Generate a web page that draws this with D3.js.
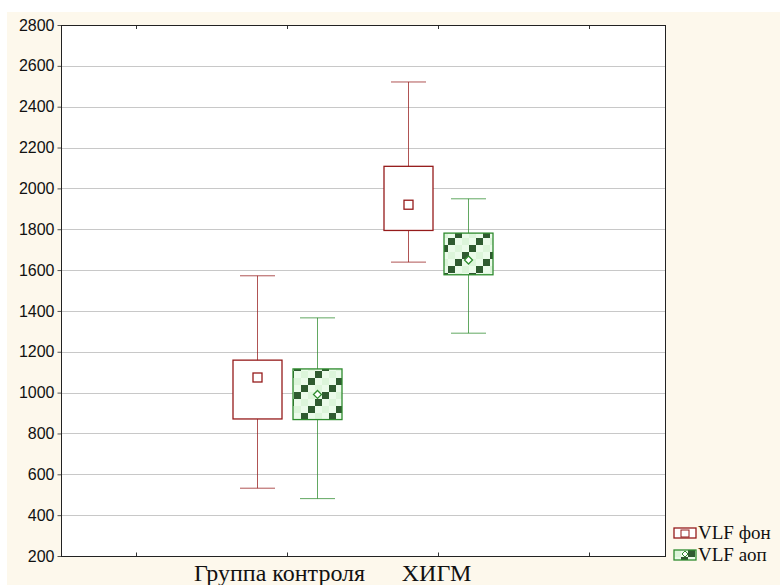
<!DOCTYPE html>
<html>
<head>
<meta charset="utf-8">
<script src="https://cdn.jsdelivr.net/npm/d3@7"></script>
<style>
  body { margin: 0; background: #fff; }
</style>
</head>
<body>
<div id="chart"></div>
<script>
// categories and series
const groups = ["Группа контроля", "ХИГМ"];
const series = ["VLF фон", "VLF аоп"];
const yTicks = [200, 400, 600, 800, 1000, 1200, 1400, 1600, 1800, 2000, 2200, 2400, 2600, 2800];

// values (per group)
const fonMean = [1074, 1920];
const fonQ1 = [871, 1794];
const fonQ3 = [1159, 2108];
const fonMin = [532, 1639];
const fonMax = [1572, 2521];

const aopMean = [991, 1649];
const aopQ1 = [868, 1577];
const aopQ3 = [1116, 1781];
const aopMin = [481, 1291];
const aopMax = [1366, 1949];

const width = 780, height = 585;
const plot = {left: 61, right: 665, top: 25, bottom: 556};
const colors = {"VLF фон": "#951b1b", "VLF аоп": "#2e8b2e"};
const serif = "'Liberation Serif', 'Times New Roman', 'DejaVu Serif', serif";
const sans = "'Liberation Sans', Arial, sans-serif";

const svg = d3.select("#chart").append("svg")
    .attr("width", width)
    .attr("height", height);

// green checker pattern for the second series
const defs = svg.append("defs");
const pat = defs.append("pattern")
    .attr("id", "checker")
    .attr("patternUnits", "userSpaceOnUse")
    .attr("width", 28).attr("height", 28);
pat.append("rect").attr("width", 28).attr("height", 28).attr("fill", "#ebfbea");
for (let r = 0; r < 4; r++) {
    for (let c = 0; c < 4; c++) {
        let fill = null;
        if ((r + c) % 4 === 2) fill = "#2f5a30";
        else if ((r + c) % 4 === 0) fill = "#dcf5da";
        if (fill) pat.append("rect").attr("x", c * 7).attr("y", r * 7)
            .attr("width", 7).attr("height", 7).attr("fill", fill);
    }
}

// page background
svg.append("rect")
    .attr("x", 7).attr("y", 12)
    .attr("width", width - 7).attr("height", height - 12)
    .attr("fill", "#fdf8ec");

svg.append("rect")
    .attr("x", plot.left).attr("y", plot.top)
    .attr("width", plot.right - plot.left).attr("height", plot.bottom - plot.top)
    .attr("fill", "#fff");

// scales: four slots, the outer two stay empty
const slots = ["_l", ...groups, "_r"];
const x = d3.scaleBand().domain(slots).range([plot.left, plot.right]);
const xs = d3.scalePoint().domain(series).range([-30, 30]);
const y = d3.scaleLinear().domain([200, 2800]).range([plot.bottom, plot.top]);

// grid
svg.append("g")
    .selectAll("line")
    .data(yTicks.filter(d => d > 200 && d < 2800))
    .enter()
    .append("line")
        .attr("x1", plot.left).attr("x2", plot.right)
        .attr("y1", d => Math.round(y(d)) + 0.5).attr("y2", d => Math.round(y(d)) + 0.5)
        .attr("stroke", "#c8c8c8")
        .attr("stroke-width", 1);

// y axis
const yAxis = d3.axisLeft(y).tickValues(yTicks).tickFormat(d3.format("d")).tickSize(4).tickPadding(4);
const gy = svg.append("g")
    .attr("transform", `translate(${plot.left + 0.5},0)`)
    .call(yAxis)
    .attr("font-family", sans)
    .attr("font-size", 16);
gy.select(".domain").remove();
gy.selectAll("line").attr("stroke", "#555");
gy.selectAll("text").attr("fill", "#111").attr("x", -7);

// x axis (bottom) with inward ticks
const xAxis = d3.axisBottom(x)
    .tickSizeInner(-4).tickSizeOuter(0)
    .tickFormat(d => groups.includes(d) ? d : "");
const gx = svg.append("g")
    .attr("transform", `translate(0,${plot.bottom + 0.5})`)
    .call(xAxis)
    .attr("font-family", serif)
    .attr("font-size", 24);
gx.select(".domain").remove();
gx.selectAll("line").attr("stroke", "#333");
gx.selectAll("text").attr("fill", "#111")
    .attr("y", 24).attr("dy", 0)
    .attr("dx", d => d === groups[0] ? -8 : -2);

// top ticks
svg.append("g")
    .selectAll("line")
    .data(slots)
    .enter()
    .append("line")
        .attr("x1", d => x(d) + x.bandwidth() / 2).attr("x2", d => x(d) + x.bandwidth() / 2)
        .attr("y1", plot.top).attr("y2", plot.top + 4)
        .attr("stroke", "#333");

// frame
svg.append("rect")
    .attr("x", plot.left + 0.5).attr("y", plot.top + 0.5)
    .attr("width", plot.right - plot.left).attr("height", plot.bottom - plot.top)
    .attr("fill", "none")
    .attr("stroke", "#222")
    .attr("stroke-width", 1);

// boxes
const boxData = [];
groups.forEach((g, i) => {
    boxData.push({group: g, s: series[0], mean: fonMean[i], q1: fonQ1[i], q3: fonQ3[i], min: fonMin[i], max: fonMax[i]});
    boxData.push({group: g, s: series[1], mean: aopMean[i], q1: aopQ1[i], q3: aopQ3[i], min: aopMin[i], max: aopMax[i]});
});

const boxW = 49, capW = 35;
const cx = d => x(d.group) + x.bandwidth() / 2 + xs(d.s);

const boxes = svg.append("g")
    .selectAll("g")
    .data(boxData)
    .enter()
    .append("g");

boxes.append("line")
    .attr("x1", cx).attr("x2", cx)
    .attr("y1", d => y(d.max)).attr("y2", d => y(d.min))
    .attr("stroke", d => colors[d.s]).attr("stroke-opacity", 0.75);
boxes.append("line")
    .attr("x1", d => cx(d) - capW / 2).attr("x2", d => cx(d) + capW / 2)
    .attr("y1", d => y(d.max)).attr("y2", d => y(d.max))
    .attr("stroke", d => colors[d.s]).attr("stroke-opacity", 0.75);
boxes.append("line")
    .attr("x1", d => cx(d) - capW / 2).attr("x2", d => cx(d) + capW / 2)
    .attr("y1", d => y(d.min)).attr("y2", d => y(d.min))
    .attr("stroke", d => colors[d.s]).attr("stroke-opacity", 0.75);
boxes.append("rect")
    .attr("x", d => cx(d) - boxW / 2)
    .attr("y", d => y(d.q3))
    .attr("width", boxW)
    .attr("height", d => y(d.q1) - y(d.q3))
    .attr("fill", d => d.s === series[0] ? "#fff" : "url(#checker)")
    .attr("stroke", d => colors[d.s])
    .attr("stroke-width", 1.3);

// mean markers
boxes.filter(d => d.s === series[0]).append("rect")
    .attr("x", d => cx(d) - 4.5).attr("y", d => y(d.mean) - 4.5)
    .attr("width", 9).attr("height", 9)
    .attr("fill", "#fff").attr("stroke", colors[series[0]]).attr("stroke-width", 1.3);
boxes.filter(d => d.s === series[1]).append("path")
    .attr("d", d => `M${cx(d)},${y(d.mean) - 4}l4,4l-4,4l-4,-4z`)
    .attr("fill", "#fff").attr("stroke", colors[series[1]]).attr("stroke-width", 1.3);

// legend
const legend = svg.append("g").attr("transform", "translate(674,528)");
const li = legend.selectAll("g")
    .data(series)
    .enter()
    .append("g")
        .attr("transform", (d, i) => `translate(0,${i * 22})`);
li.append("rect")
    .attr("width", 22).attr("height", 10)
    .attr("fill", (d, i) => i === 0 ? "#fff" : "url(#checker)")
    .attr("stroke", d => colors[d]).attr("stroke-width", 1.3);
li.filter((d, i) => i === 0).append("rect")
    .attr("x", 7).attr("y", 2).attr("width", 8).attr("height", 7)
    .attr("fill", "#fff").attr("stroke", colors[series[0]]);
li.filter((d, i) => i === 1).append("path")
    .attr("d", "M11,1l3,3l-3,3l-3,-3z")
    .attr("fill", "#fff").attr("stroke", colors[series[1]]);
li.append("text")
    .attr("x", 24).attr("y", 11)
    .attr("font-family", serif)
    .attr("font-size", 19)
    .attr("fill", "#111")
    .text(d => d);
</script>
</body>
</html>
